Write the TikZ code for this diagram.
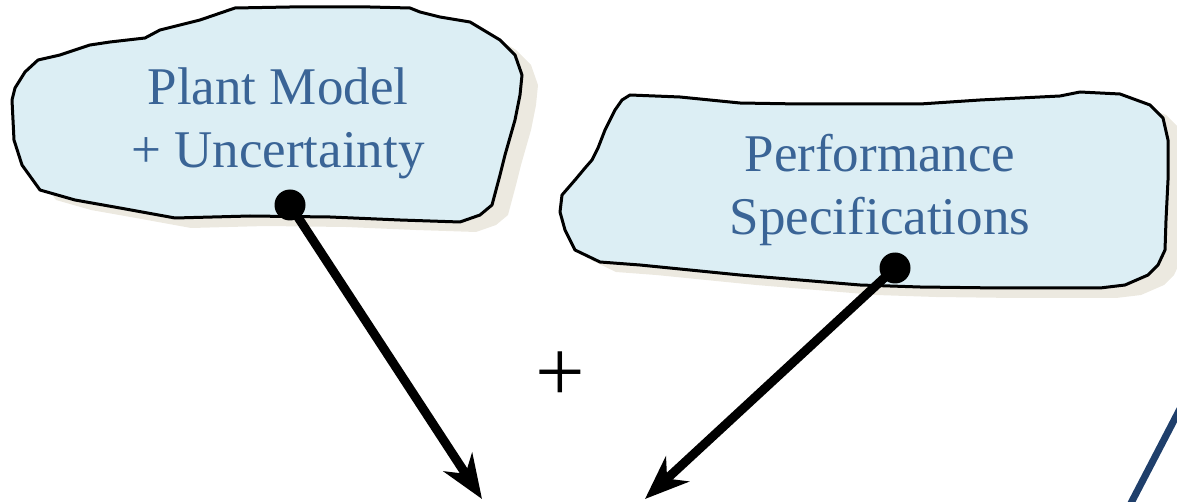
\documentclass[tikz,border=0pt]{standalone}
\usepackage{fontspec}
\setmainfont{Liberation Serif}
\usetikzlibrary{arrows.meta}
\definecolor{blobfill}{HTML}{DCEEF4}
\definecolor{shadowc}{HTML}{ECE9E0}
\definecolor{txtblue}{HTML}{3A6496}
\definecolor{navy}{HTML}{1F3F6B}
\tikzset{
  blob/.style={draw=black, line width=3pt, fill=blobfill, line join=round},
  shadowblob/.style={fill=shadowc},
  label/.style={text=txtblue, font=\fontsize{53}{63}\selectfont, align=center, inner sep=0pt},
  dotnode/.style={circle, fill=black, minimum size=31pt, inner sep=0pt},
  bigarrow/.style={line width=9pt, -{Stealth[length=44pt,width=34pt,inset=14pt]}, shorten <=-2pt}
}
\begin{document}
\begin{tikzpicture}[x=1pt,y=-1pt]
\useasboundingbox (0,0) rectangle (1177,502);
\def\blobA{(12,100) -- (14,140) -- (22,165) -- (40,190) -- (75,200) -- (120,208) -- (175,218) -- (250,216) -- (330,217) -- (400,220) -- (460,222) -- (480,215) -- (492,205) -- (500,175) -- (505,155) -- (515,120) -- (520,95) -- (522,75) -- (515,55) -- (500,40) -- (470,22) -- (440,17) -- (420,12) -- (410,8) -- (370,7) -- (330,7) -- (290,7) -- (235,8) -- (200,20) -- (160,30) -- (145,38) -- (110,42) -- (90,45) -- (60,55) -- (38,60) -- (25,72) -- (15,88) -- cycle}
\def\blobB{(630,95) -- (680,97) -- (740,103) -- (800,104) -- (860,104) -- (920,104) -- (980,100) -- (1020,98) -- (1060,96) -- (1080,92) -- (1120,94) -- (1150,105) -- (1163,118) -- (1168,140) -- (1168,180) -- (1166,220) -- (1165,250) -- (1158,265) -- (1148,275) -- (1125,285) -- (1100,288) -- (1000,288) -- (920,287) -- (860,285) -- (800,280) -- (740,275) -- (690,270) -- (640,265) -- (600,262) -- (575,250) -- (565,230) -- (560,212) -- (562,195) -- (575,180) -- (585,168) -- (592,160) -- (598,148) -- (605,130) -- (615,110) -- (622,100) -- cycle}
% shadows
\begin{scope}[shift={(16,10)}]
  \fill[shadowblob] \blobA;
  \fill[shadowblob] \blobB;
\end{scope}
% blobs
\draw[blob] \blobA;
\draw[blob] \blobB;
% labels
\node[label, anchor=base] (t1a) at (278,105) {Plant Model};
\node[label, anchor=base] (t1b) at (278,168) {+ Uncertainty};
\node[label, anchor=base] (t2a) at (880,172) {Performance};
\node[label, anchor=base] (t2b) at (880,235) {Specifications};
% dots
\node[dotnode] (d1) at (290,205) {};
\node[dotnode] (d2) at (895,268) {};
\coordinate (a1) at (482,499);
\coordinate (a2) at (645,499);
\draw[bigarrow] (d1.center) -- (a1);
\draw[bigarrow] (d2.center) -- (a2);
% plus
\node[font=\fontsize{88}{88}\selectfont, inner sep=0pt] (plus) at (560,377) {+};
% navy line at edge
\coordinate (n1) at (1182,405);
\coordinate (n2) at (1130,505);
\draw[navy, line width=7pt] (n1) -- (n2);
\end{tikzpicture}
\end{document}
